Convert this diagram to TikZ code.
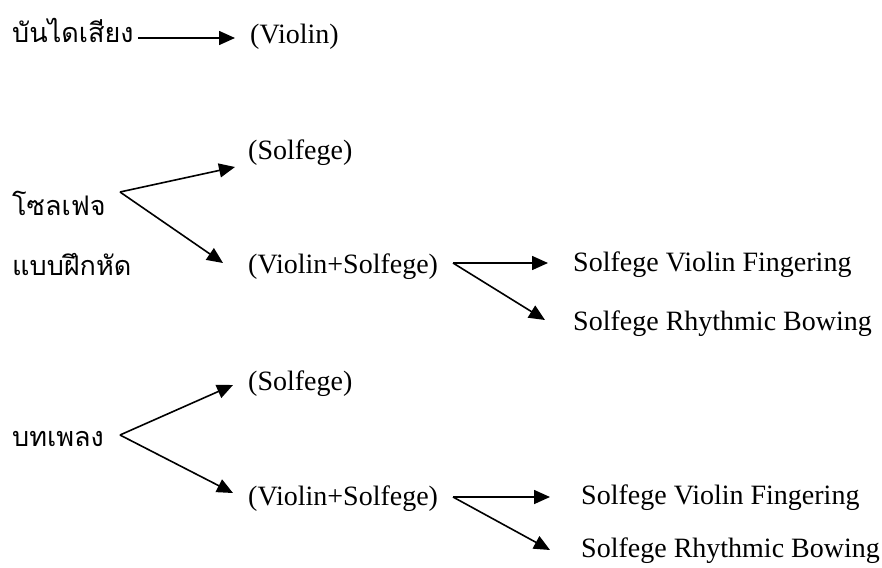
\documentclass[tikz,border=0pt]{standalone}
\usepackage{fontspec}
\setmainfont{Liberation Serif}
\newfontfamily\thaifont[Script=Thai]{Loma}
\usetikzlibrary{arrows.meta}

\begin{document}
\begin{tikzpicture}[x=1pt,y=-1pt,>={Triangle[length=16pt,width=14pt]},
	txt/.style={anchor=base west,inner sep=0pt,font=\fontsize{28}{32}\selectfont},
	thai/.style={anchor=base west,inner sep=0pt,font=\thaifont\fontsize{27}{32}\selectfont},
	arr/.style={->,line width=1.6pt}]

\useasboundingbox (0,0) rectangle (882,567);

% scale
\node[thai] (scale) at (12,43) {บันไดเสียง};
\node[txt] (violin) at (250,44) {(Violin)};
\coordinate (s0) at (138,38);
\draw[arr] (s0) -- (235,38);

% solfege exercises
\node[thai] (solfa) at (12,215) {โซลเฟจ};
\node[thai] (exer) at (12,275) {แบบฝึกหัด};
\node[txt] (sol1) at (248,159) {(Solfege)};
\node[txt] (vs1) at (248,273) {(Violin+Solfege)};
\node[txt] (fing1) at (573,271) {Solfege Violin Fingering};
\node[txt] (bow1) at (573,330) {Solfege Rhythmic Bowing};
\coordinate (fork1) at (120,192);
\coordinate (split1) at (453,263);
\draw[arr] (fork1) -- (235,167);
\draw[arr] (fork1) -- (223,263);
\draw[arr] (split1) -- (548,263);
\draw[arr] (split1) -- (545,320);

% songs
\node[thai] (song) at (12,446) {บทเพลง};
\node[txt] (sol2) at (248,390) {(Solfege)};
\node[txt] (vs2) at (248,505) {(Violin+Solfege)};
\node[txt] (fing2) at (581,504) {Solfege Violin Fingering};
\node[txt] (bow2) at (581,557) {Solfege Rhythmic Bowing};
\coordinate (fork2) at (120,435);
\coordinate (split2) at (453,497);
\draw[arr] (fork2) -- (233,385);
\draw[arr] (fork2) -- (233,493);
\draw[arr] (split2) -- (550,497);
\draw[arr] (split2) -- (550,550);

\end{tikzpicture}
\end{document}
